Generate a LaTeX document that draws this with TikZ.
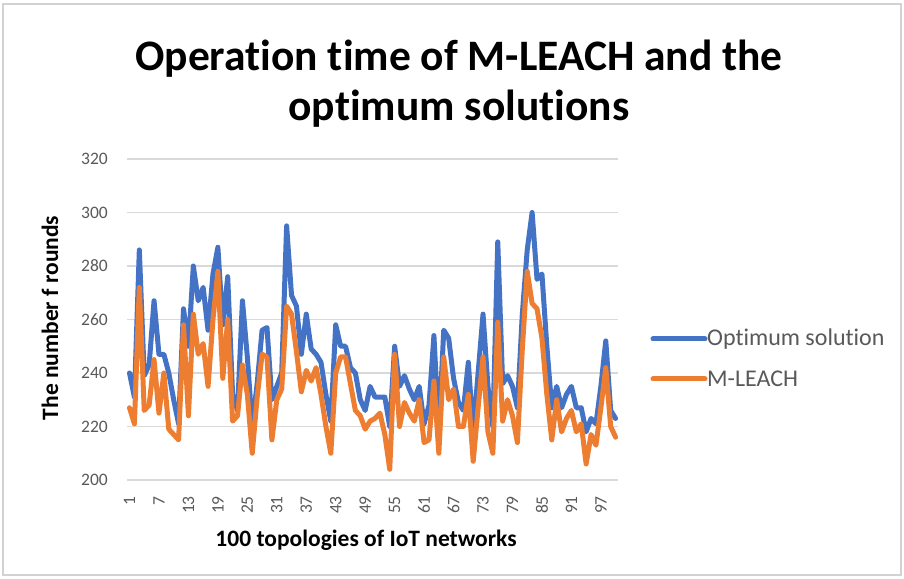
\documentclass[tikz,border=0pt]{standalone}
\usepackage{fontspec}
\setmainfont{Carlito}[Ligatures=NoCommon]
\definecolor{serA}{HTML}{4472C4}
\definecolor{serB}{HTML}{ED7D31}
\definecolor{lblgray}{HTML}{595959}
\definecolor{gridgray}{HTML}{D9D9D9}
\begin{document}
\begin{tikzpicture}[x=1pt,y=1pt,
  gridline/.style={draw=gridgray, line width=1.4pt},
  serline/.style={line width=5pt, line join=round, line cap=round},
  ticklab/.style={font=\fontsize{17.5}{17.5}\selectfont, text=lblgray, inner sep=0pt},
  axtitle/.style={font=\bfseries\fontsize{23.5}{24}\selectfont, inner sep=0pt},
  legtext/.style={font=\fontsize{24}{24}\selectfont, text=lblgray, anchor=west, inner sep=0pt},
  titlefont/.style={font=\bfseries\fontsize{43.5}{50}\selectfont, inner sep=0pt, anchor=base}]
\useasboundingbox (0,0) rectangle (904,578);
\fill[white] (0,0) rectangle (904,578);
\draw[gray!35, line width=1.5pt] (3,3) rectangle (901,574);
\node[titlefont] (t1) at (459,507) {Operation time of M-LEACH and the};
\node[titlefont] (t2) at (459,457) {optimum solutions};
\begin{scope}[shift={(124.59pt,-437pt)}, x=4.91pt, y=2.675pt]
  \foreach \v in {200,220,...,320} {
    \draw[gridline] (0.5,\v) -- (100.5,\v);
    \node[ticklab, anchor=east] (yl\v) at ([xshift=-19pt]0.5,\v) {\v};
  }
  \foreach \i in {1,7,...,97} {
    \node[ticklab, rotate=90, anchor=east] (xl\i) at ([yshift=-16pt]\i,200) {\i};
  }
  \draw[serline, serA] plot coordinates {
   (1,240) (2,231) (3,286) (4,239) (5,243) (6,267) (7,247) (8,247) (9,240) (10,230)
   (11,221) (12,264) (13,250) (14,280) (15,267) (16,272) (17,256) (18,277) (19,287) (20,258)
   (21,276) (22,232) (23,226) (24,267) (25,246) (26,220) (27,236) (28,256) (29,257) (30,230)
   (31,235) (32,240) (33,295) (34,269) (35,265) (36,247) (37,262) (38,249) (39,247) (40,244)
   (41,232) (42,222) (43,258) (44,250) (45,250) (46,242) (47,240) (48,230) (49,226) (50,235)
   (51,231) (52,231) (53,231) (54,220) (55,250) (56,235) (57,239) (58,234) (59,230) (60,235)
   (61,221) (62,228) (63,254) (64,218) (65,256) (66,253) (67,238) (68,229) (69,226) (70,244)
   (71,218) (72,240) (73,262) (74,235) (75,220) (76,289) (77,236) (78,239) (79,235) (80,227)
   (81,262) (82,286) (83,300) (84,275) (85,277) (86,250) (87,227) (88,235) (89,227) (90,232)
   (91,235) (92,227) (93,227) (94,218) (95,223) (96,221) (97,235) (98,252) (99,226) (100,223)};
  \draw[serline, serB] plot coordinates {
   (1,227) (2,221) (3,272) (4,226) (5,228) (6,245) (7,225) (8,240) (9,219) (10,217)
   (11,215) (12,258) (13,224) (14,262) (15,247) (16,251) (17,235) (18,260) (19,278) (20,238)
   (21,260) (22,222) (23,224) (24,243) (25,232) (26,210) (27,231) (28,247) (29,246) (30,215)
   (31,230) (32,234) (33,265) (34,262) (35,248) (36,233) (37,241) (38,237) (39,242) (40,232)
   (41,220) (42,210) (43,240) (44,246) (45,246) (46,236) (47,226) (48,224) (49,219) (50,222)
   (51,223) (52,225) (53,217) (54,204) (55,247) (56,220) (57,229) (58,225) (59,222) (60,230)
   (61,214) (62,215) (63,237) (64,210) (65,246) (66,230) (67,234) (68,220) (69,220) (70,232)
   (71,207) (72,227) (73,246) (74,218) (75,210) (76,259) (77,222) (78,230) (79,224) (80,214)
   (81,249) (82,278) (83,266) (84,264) (85,253) (86,232) (87,215) (88,230) (89,218) (90,223)
   (91,226) (92,218) (93,221) (94,206) (95,217) (96,213) (97,227) (98,242) (99,220) (100,216)};
\end{scope}
\node[axtitle, anchor=base] (xt) at (366,32) {100 topologies of IoT networks};
\node[axtitle, rotate=90] (yt) at (50,260) {The number f rounds};
\coordinate (la1) at (653,239);
\coordinate (la2) at (705,239);
\coordinate (lb1) at (653,199);
\coordinate (lb2) at (705,199);
\draw[serA, line width=5pt, line cap=round] (la1) -- (la2);
\draw[serB, line width=5pt, line cap=round] (lb1) -- (lb2);
\node[legtext] (lga) at (707,239) {Optimum solution};
\node[legtext] (lgb) at (707,199) {M-LEACH};
\end{tikzpicture}
\end{document}
